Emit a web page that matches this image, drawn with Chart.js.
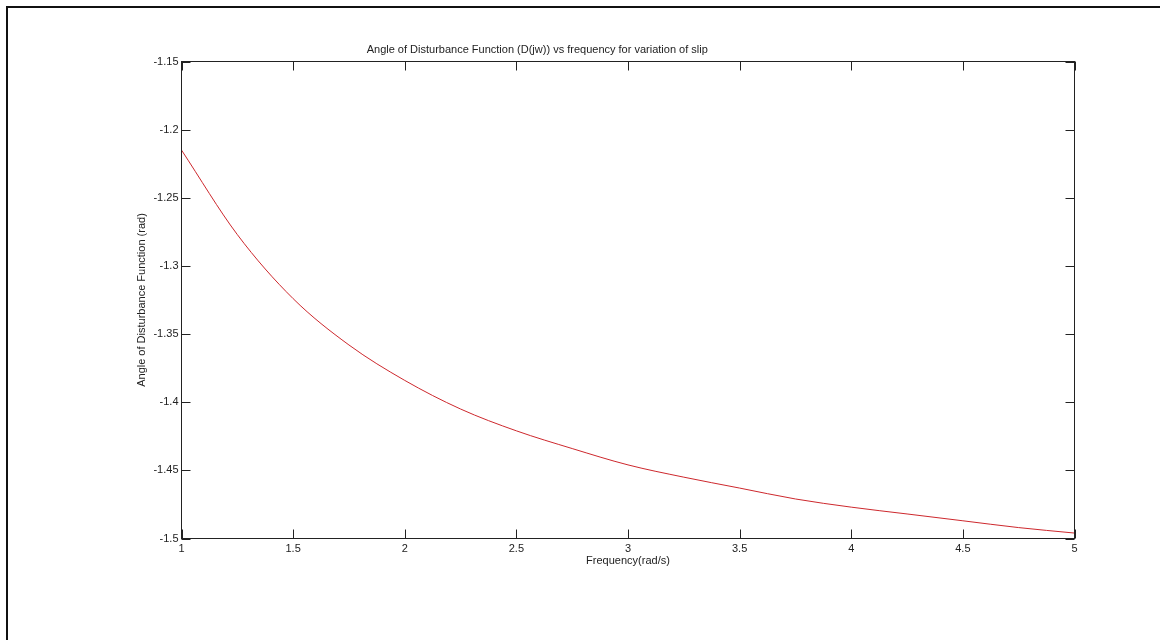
<!DOCTYPE html>
<html>
<head>
<meta charset="utf-8">
<script src="https://cdn.jsdelivr.net/npm/chart.js@4/dist/chart.umd.min.js"></script>
<style>
  html, body { margin: 0; padding: 0; background: #fff; }
  #wrap { position: relative; width: 1160px; height: 640px; overflow: hidden; }
  #frame {
    position: absolute; left: 6px; top: 6px; right: -10px; bottom: -10px;
    border-left: 2px solid #111; border-top: 2px solid #111;
    pointer-events: none;
  }
</style>
</head>
<body>
<div id="wrap">
  <canvas id="angleChart"></canvas>
  <div id="frame"></div>
</div>
<script>
const freq = [1, 1.25, 1.5, 1.75, 2, 2.25, 2.5, 2.75, 3, 3.25, 3.5, 3.75, 4, 4.25, 4.5, 4.75, 5]
const angle = [-1.215, -1.277, -1.324, -1.358, -1.384, -1.405, -1.421, -1.434, -1.446,
  -1.455, -1.463, -1.471, -1.477, -1.482, -1.487, -1.492, -1.496]

const xTicks = [1, 1.5, 2, 2.5, 3, 3.5, 4, 4.5, 5]
const yTicks = [-1.5, -1.45, -1.4, -1.35, -1.3, -1.25, -1.2, -1.15]

const ink = "#222"
const font = { family: "'Liberation Sans', Arial, sans-serif", size: 11 }

// box around the axes with inward tick marks on every side
const boxTicks = {
  id: "boxTicks",
  afterDatasetsDraw(chart) {
    const { ctx, chartArea: a, scales } = chart
    const len = 9
    ctx.save()
    ctx.strokeStyle = ink
    ctx.lineWidth = 1
    ctx.strokeRect(a.left, a.top, a.right - a.left, a.bottom - a.top)
    ctx.beginPath()
    xTicks.forEach(v => {
      const px = Math.round(scales.x.getPixelForValue(v)) + 0.5
      ctx.moveTo(px, a.bottom); ctx.lineTo(px, a.bottom - len)
      ctx.moveTo(px, a.top); ctx.lineTo(px, a.top + len)
    })
    yTicks.forEach(v => {
      const py = Math.round(scales.y.getPixelForValue(v)) + 0.5
      ctx.moveTo(a.left, py); ctx.lineTo(a.left + len, py)
      ctx.moveTo(a.right, py); ctx.lineTo(a.right - len, py)
    })
    ctx.stroke()
    ctx.restore()
  },
}

const trimNum = v => String(Number(v.toFixed(2)))

new Chart(document.getElementById("angleChart"), {
  type: "line",
  data: {
    datasets: [
      {
        data: freq.map((f, i) => ({ x: f, y: angle[i] })),
        borderColor: "rgb(205, 40, 45)",
        borderWidth: 1,
        pointRadius: 0,
        cubicInterpolationMode: "monotone",
        fill: false,
      },
    ],
  },
  options: {
    responsive: true,
    maintainAspectRatio: false,
    animation: false,
    events: [],
    layout: { padding: { left: 0, right: 85.5, top: 0, bottom: 0 } },
    plugins: {
      legend: { display: false },
      tooltip: { enabled: false },
      title: {
        display: true,
        text: "Angle of Disturbance Function (D(jw)) vs frequency for variation of slip",
        color: ink,
        font: { ...font, weight: "normal" },
        padding: { top: 43.4, bottom: 4.9 },
      },
    },
    scales: {
      x: {
        type: "linear",
        min: 1,
        max: 5,
        afterFit(scale) { scale.height = 101.5 },
        afterBuildTicks(scale) { scale.ticks = xTicks.map(v => ({ value: v })) },
        grid: { display: false, drawTicks: false },
        border: { display: false },
        ticks: { color: ink, font, padding: 4, maxRotation: 0, callback: v => trimNum(v) },
        title: {
          display: true,
          text: "Frequency(rad/s)",
          color: ink,
          font,
          padding: { top: 0, bottom: 72.4 },
        },
      },
      y: {
        min: -1.5,
        max: -1.15,
        afterFit(scale) { scale.width = 181.5 },
        afterBuildTicks(scale) { scale.ticks = yTicks.map(v => ({ value: v })) },
        grid: { display: false, drawTicks: false },
        border: { display: false },
        ticks: { color: ink, font, padding: 3, callback: v => trimNum(v) },
        title: {
          display: true,
          text: "Angle of Disturbance Function (rad)",
          color: ink,
          font,
          padding: { top: 135.4, bottom: 0 },
        },
      },
    },
  },
  plugins: [boxTicks],
})
</script>
</body>
</html>
